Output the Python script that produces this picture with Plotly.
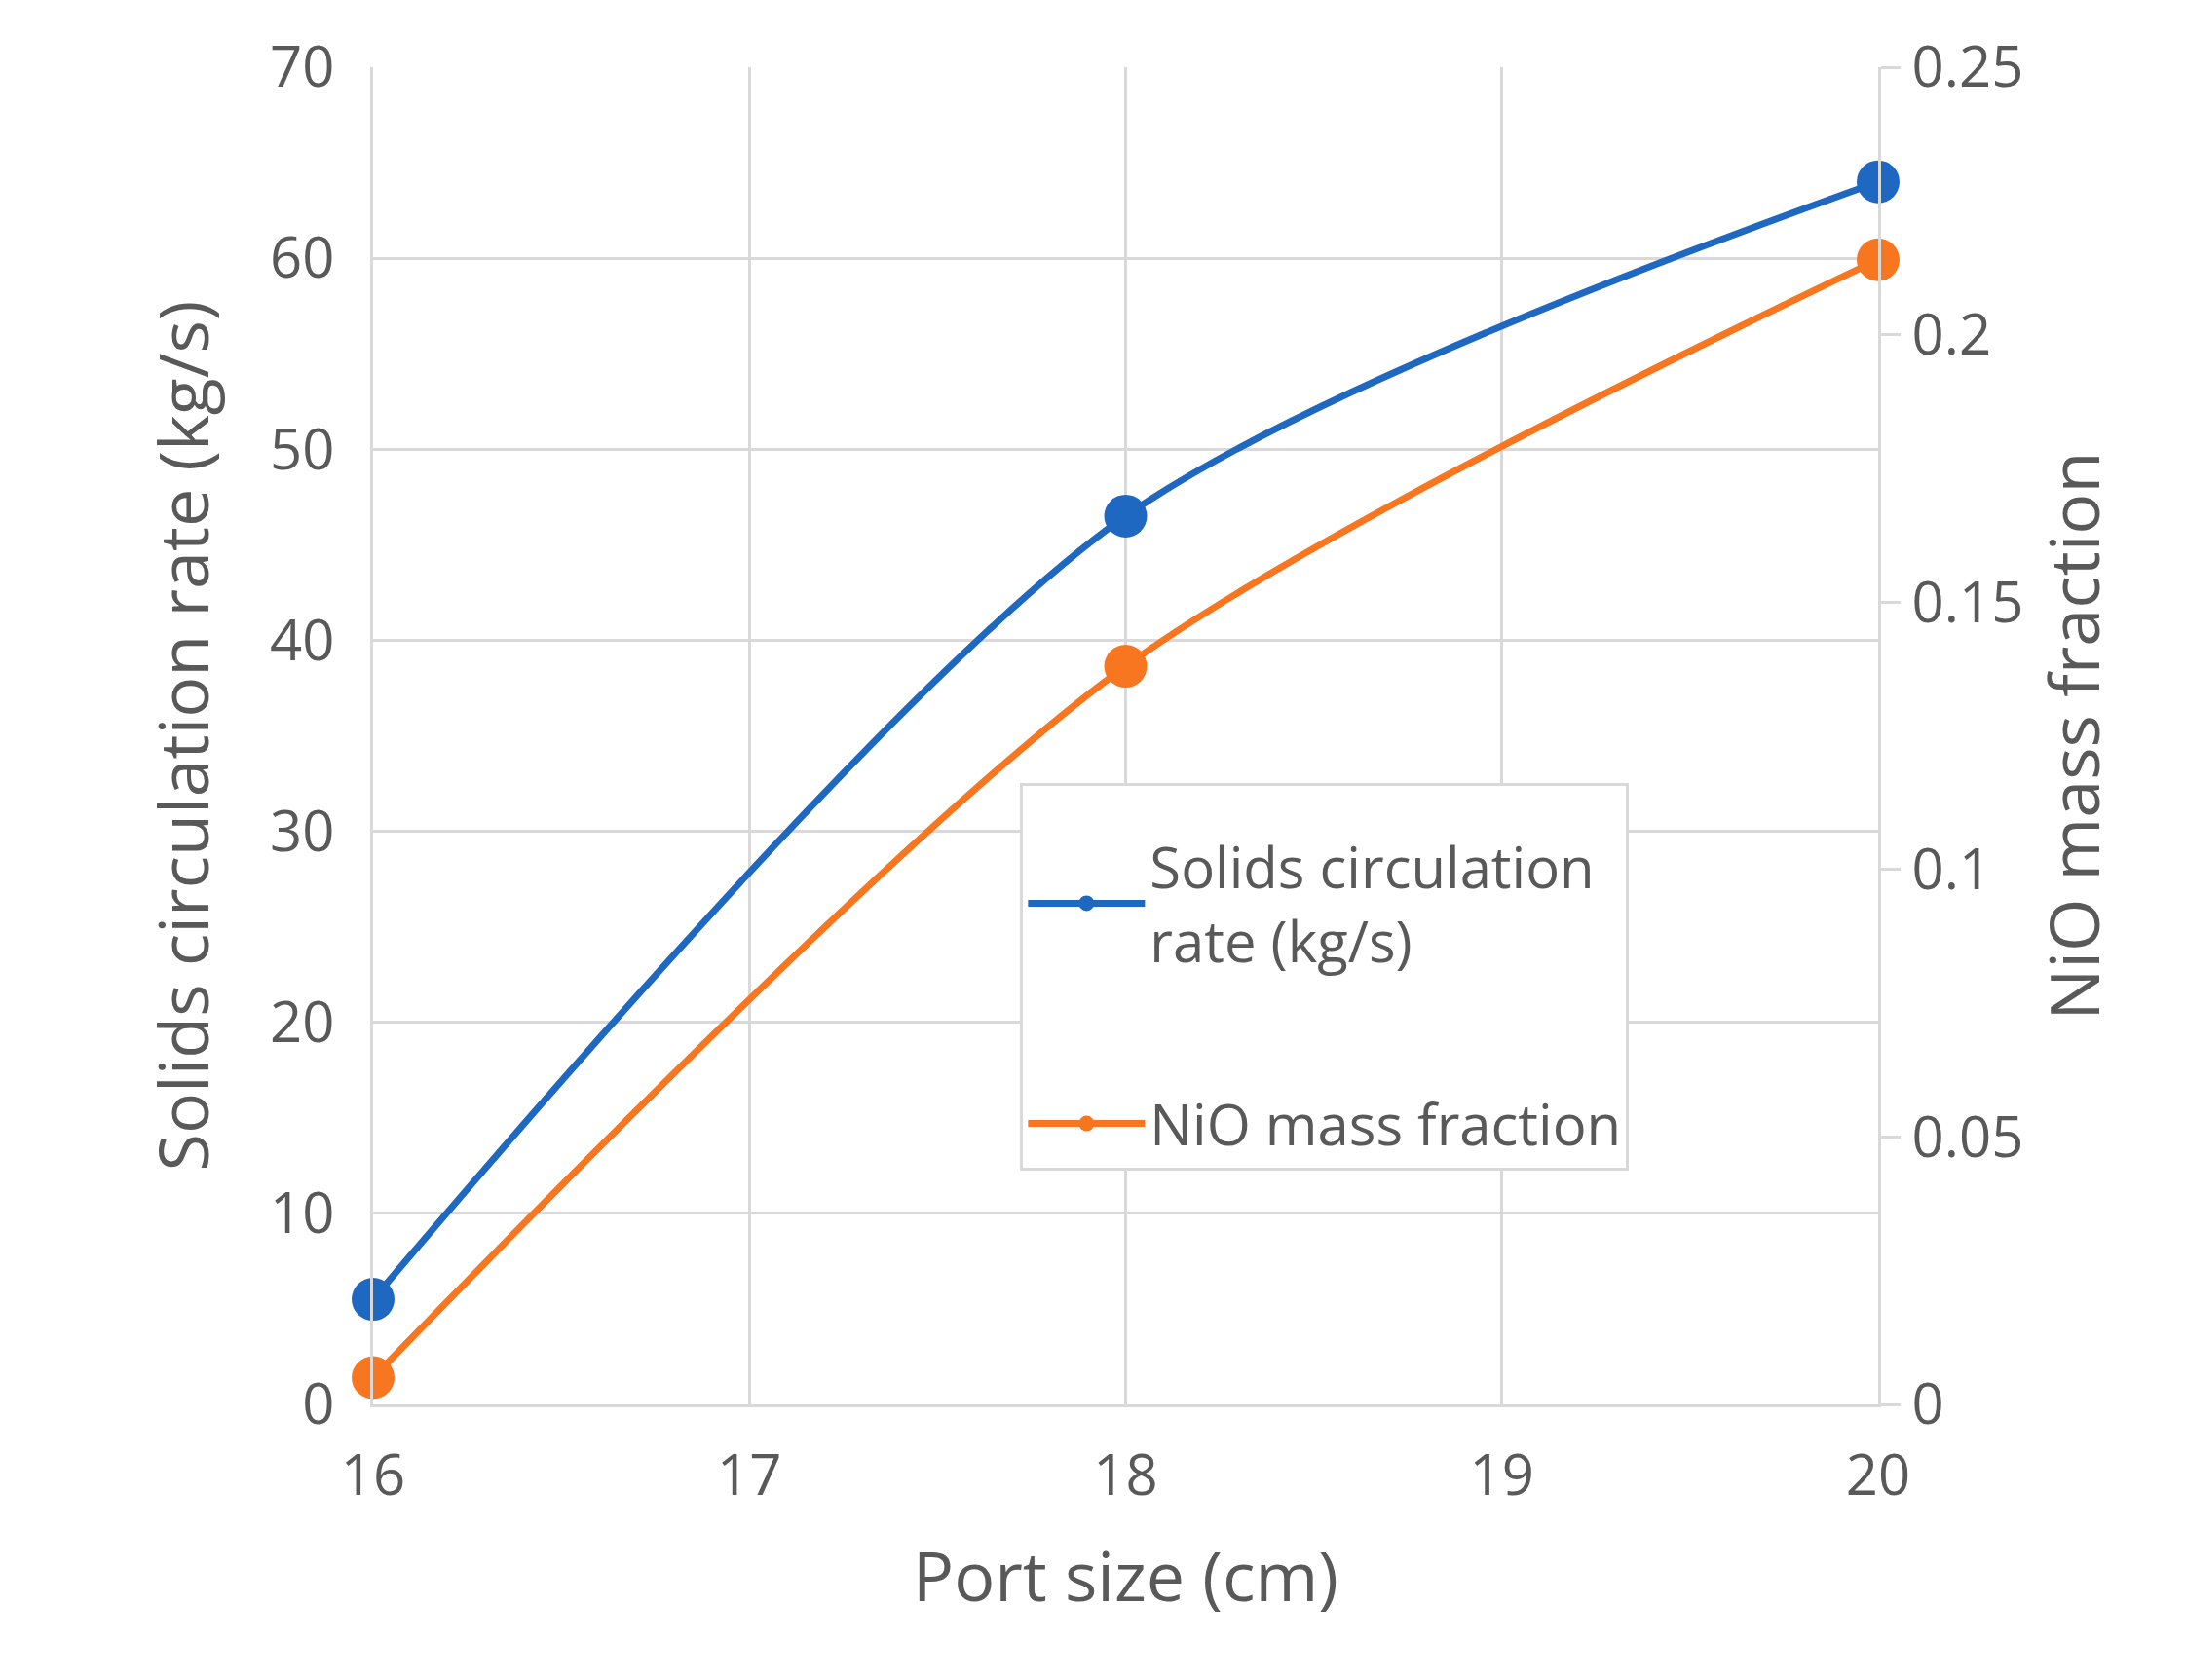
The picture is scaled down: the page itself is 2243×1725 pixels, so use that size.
import plotly.graph_objects as go

port = [16, 18, 20]
solids = [5.5, 46.5, 64.0]
nio = [0.005, 0.138, 0.214]

blue = "#1f68c1"
orange = "#f7761f"
gray = "#595959"
grid = "#d9d9d9"
font = "Open Sans"

fig = go.Figure()
fig.add_trace(go.Scatter(x=port, y=solids, name="Solids circulation<br>rate (kg/s)  ",
                         legendgroup="a", cliponaxis=False,
                         mode="lines+markers", line=dict(color=blue, width=7, shape="spline", smoothing=0.8),
                         marker=dict(size=44, color=blue)))
fig.add_trace(go.Scatter(x=port, y=nio, name="NiO mass fraction", yaxis="y2",
                         legendgroup="b", cliponaxis=False,
                         mode="lines+markers", line=dict(color=orange, width=7, shape="spline", smoothing=0.8),
                         marker=dict(size=44, color=orange)))

fig.update_layout(
    width=2243, height=1725, paper_bgcolor="white", plot_bgcolor="white",
    margin=dict(l=375, r=323, t=61, b=291),
    font=dict(family=font, size=58, color=gray),
    xaxis=dict(range=[16, 20], dtick=1, showgrid=True, gridcolor=grid, gridwidth=3,
               showline=True, linecolor=grid, linewidth=3, ticks="",
               title=dict(text="Port size (cm)", standoff=45), zeroline=False, ticklabelstandoff=20),
    yaxis=dict(range=[0, 70], dtick=10, showgrid=True, gridcolor=grid, gridwidth=3,
               showline=True, linecolor=grid, linewidth=3, zeroline=False,
               title=dict(text="Solids circulation rate (kg/s)", standoff=40), ticklabelstandoff=25),
    yaxis2=dict(range=[0, 0.25], dtick=0.05, overlaying="y", side="right", showgrid=False,
                showline=True, linecolor=grid, linewidth=3, ticks="outside", ticklen=20,
                tickcolor=grid, tickwidth=3, zeroline=False,
                title=dict(text="NiO mass fraction", standoff=30)),
    legend=dict(x=0.43, y=0.465, xanchor="left", yanchor="top", bgcolor="white",
                bordercolor=grid, borderwidth=3, font=dict(size=58, color=gray),
                tracegroupgap=110, itemwidth=120, itemsizing="trace",
                title=dict(text=" ", font=dict(size=30))),
    showlegend=True,
)
fig.write_html("out.html")
